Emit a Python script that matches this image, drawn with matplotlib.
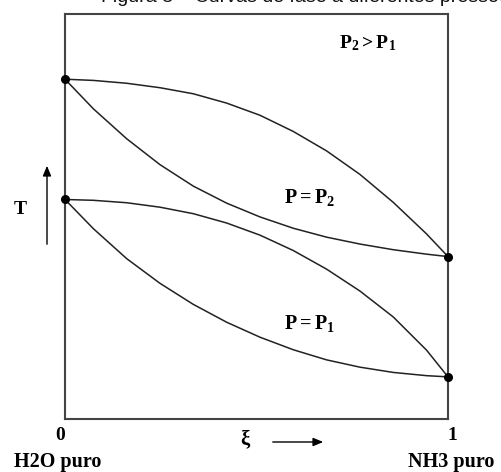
import matplotlib
matplotlib.use("Agg")
import matplotlib.pyplot as plt

# composition xi (0 = pure H2O, 1 = pure NH3) and temperature (arbitrary units 0..100)
xi = [0, 0.074, 0.161, 0.248, 0.335, 0.422, 0.509, 0.596, 0.683, 0.770, 0.857, 0.944, 1.0]

t_p2_dew = [83.9, 83.6, 82.9, 81.8, 80.3, 78.0, 75.0, 71.0, 66.2, 60.4, 53.5, 45.7, 40.1]
t_p2_bub = [83.9, 76.6, 69.2, 62.8, 57.5, 53.3, 49.9, 47.1, 44.9, 43.2, 41.8, 40.7, 40.1]
t_p1_dew = [54.2, 54.0, 53.4, 52.3, 50.7, 48.4, 45.4, 41.6, 37.0, 31.6, 25.2, 17.0, 10.4]
t_p1_bub = [54.2, 47.0, 39.6, 33.5, 28.3, 23.9, 20.2, 17.1, 14.6, 12.8, 11.5, 10.7, 10.4]

W, H = 501, 472
plt.rcParams['mathtext.fontset'] = 'custom'
plt.rcParams['mathtext.rm'] = 'Liberation Serif:bold'
plt.rcParams['mathtext.it'] = 'Liberation Serif:bold'
plt.rcParams['mathtext.bf'] = 'Liberation Serif:bold'

fig = plt.figure(figsize=(W / 100, H / 100), dpi=100)
ax = fig.add_axes([65 / W, 1 - 419 / H, (448 - 65) / W, (419 - 14) / H])

def fx(px):
    return px / W

def fy(py):
    return 1 - py / H

line_kw = dict(color='#222222', lw=1.1, solid_joinstyle='round')
ax.plot(xi, t_p2_dew, **line_kw)
ax.plot(xi, t_p2_bub, **line_kw)
ax.plot(xi, t_p1_dew, **line_kw)
ax.plot(xi, t_p1_bub, **line_kw)

# pure component boiling points
ends_x = [xi[0], xi[-1], xi[0], xi[-1]]
ends_t = [t_p2_dew[0], t_p2_dew[-1], t_p1_dew[0], t_p1_dew[-1]]
ax.plot(ends_x, ends_t, 'o', color='black', ms=5.5, clip_on=False, zorder=5)

ax.set_xlim(0, 1)
ax.set_ylim(0, 100)
ax.set_xticks([])
ax.set_yticks([])
for s in ax.spines.values():
    s.set_color('#444444')
    s.set_linewidth(1.5)

serif = dict(family='Liberation Serif', weight='bold', color='black')

fig.text(fx(368), fy(43), r'$\mathrm{P_2 > P_1}$', ha='center', va='center', fontsize=14)
fig.text(fx(310), fy(197), r'$\mathrm{P = P_2}$', ha='center', va='center', fontsize=14.5)
fig.text(fx(310), fy(323), r'$\mathrm{P = P_1}$', ha='center', va='center', fontsize=14.5)

fig.text(fx(60), fy(435), '0', ha='center', va='center', fontsize=14, **serif)
fig.text(fx(452), fy(435), '1', ha='center', va='center', fontsize=14, **serif)
fig.text(fx(245), fy(439), 'ξ', ha='center', va='center', fontsize=15, **serif)
fig.text(fx(58), fy(462), 'H2O puro', ha='center', va='center', fontsize=14.5, **serif)
fig.text(fx(451), fy(462), 'NH3 puro', ha='center', va='center', fontsize=14.5, **serif)
fig.text(fx(20), fy(210), 'T', ha='center', va='center', fontsize=14, **serif)

arrow_kw = dict(arrowstyle='-|>,head_length=0.6,head_width=0.25', color='black', lw=1.0)
ax.annotate('', xy=(fx(326), fy(442)), xycoords='figure fraction',
            xytext=(fx(270), fy(442)), textcoords='figure fraction',
            arrowprops=arrow_kw, annotation_clip=False)
ax.annotate('', xy=(fx(47), fy(163)), xycoords='figure fraction',
            xytext=(fx(47), fy(247)), textcoords='figure fraction',
            arrowprops=arrow_kw, annotation_clip=False)

# caption cut off at the top of the original image, only its lowest part shows
fig.text(fx(101), fy(2), 'Figura 3 – Curvas de fase a diferentes pressões',
         ha='left', va='baseline', fontsize=14, family='Liberation Sans', color='#111111')

fig.savefig('out.png', dpi=100)
